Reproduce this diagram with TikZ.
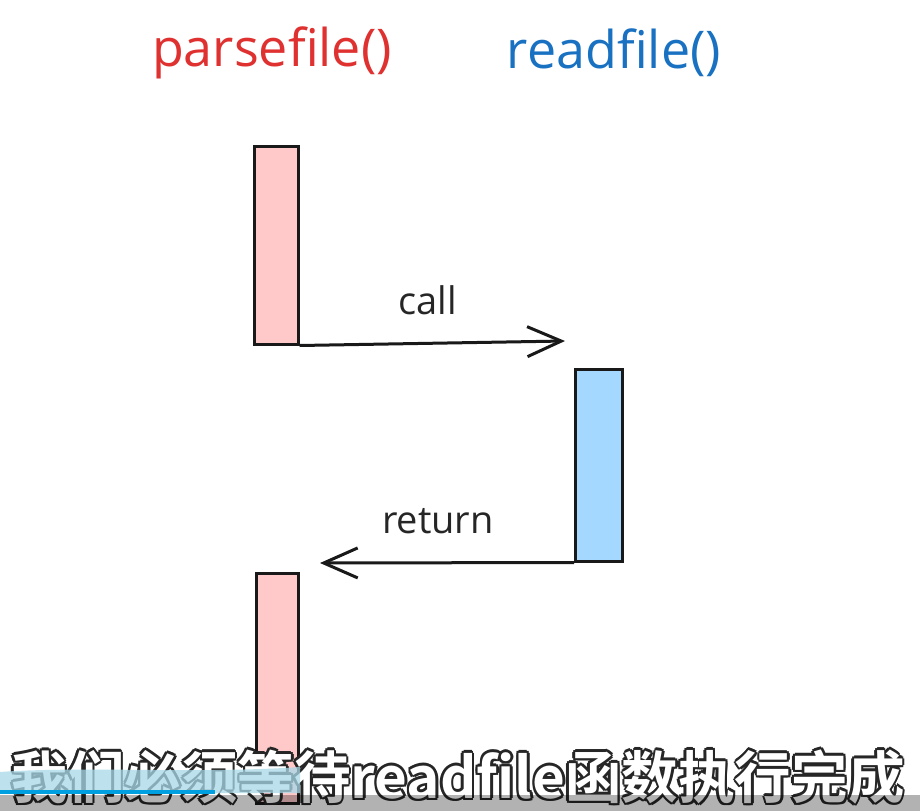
\documentclass[tikz,border=0pt]{standalone}
\usepackage{fontspec}
\setmainfont{Open Sans}
\newfontfamily\cjk{Noto Sans CJK SC}[BoldFont={* Bold}]
\usetikzlibrary{arrows.meta}
\definecolor{pinkfill}{HTML}{FFC9C9}
\definecolor{bluefill}{HTML}{A5D8FF}
\definecolor{redtxt}{HTML}{E03131}
\definecolor{bluetxt}{HTML}{1971C2}
\definecolor{barblue}{HTML}{00A0E0}
\definecolor{wave}{HTML}{A9D9E8}
\tikzset{
  actbox/.style={draw=black!90, line width=2.5pt, inner sep=0pt, anchor=north west},
  msg/.style={draw=black!90, line width=3pt, -{Straight Barb[length=34pt,width=30pt,line width=3pt]}},
  msglabel/.style={font=\fontsize{38}{42}\selectfont, text=black!85},
  title/.style={font=\fontsize{52}{56}\selectfont},
  subline/.style={font=\cjk\bfseries\fontsize{52}{56}\selectfont, inner sep=0pt}
}
\newcommand{\subtext}{\resizebox{893pt}{!}{我们必须等待readfile函数执行完成}}
\begin{document}
\begin{tikzpicture}[x=1pt,y=-1pt]
\useasboundingbox (0,0) rectangle (920,811);
\fill[white] (0,0) rectangle (920,811);
% titles
\node[title, text=redtxt] (t1) at (272,53) {parsefile()};
\node[title, text=bluetxt] (t2) at (614,53) {readfile()};
% activation boxes
\node[actbox, fill=pinkfill, minimum width=44pt, minimum height=198pt] (p1) at (253,145) {};
\node[actbox, fill=bluefill, minimum width=47pt, minimum height=192pt] (r1) at (574,368) {};
\node[actbox, fill=pinkfill, minimum width=42pt, minimum height=230pt] (p2) at (255,572) {};
% messages
\coordinate (callend) at (565,341);
\coordinate (retend) at (320,563);
\draw[msg] (p1.south east) -- (callend);
\node[msglabel] (lcall) at (428,300) {call};
\draw[msg] (r1.south west) -- (retend);
\node[msglabel] (lret) at (438,521) {return};
% subtitle overlay (dark outline made of offset copies, white text on top)
\foreach \dx/\dy in {-2.5/0,2.5/0,0/-2.5,0/2.5,-1.8/-1.8,1.8/1.8,-1.8/1.8,1.8/-1.8}{
  \node[subline, text=black!85, anchor=center] at (458+\dx,777+\dy) {\subtext};
}
\node[subline, text=white, anchor=center] (sub) at (458,777) {\subtext};
\fill[wave, opacity=0.75] (0,772) .. controls (80,766) and (200,774) .. (300,767) -- (300,793) -- (0,793) -- cycle;
\fill[black, opacity=0.3] (0,795) rectangle (920,811);
\draw[barblue, line width=4pt] (0,792) -- (215,792);
\end{tikzpicture}
\end{document}
